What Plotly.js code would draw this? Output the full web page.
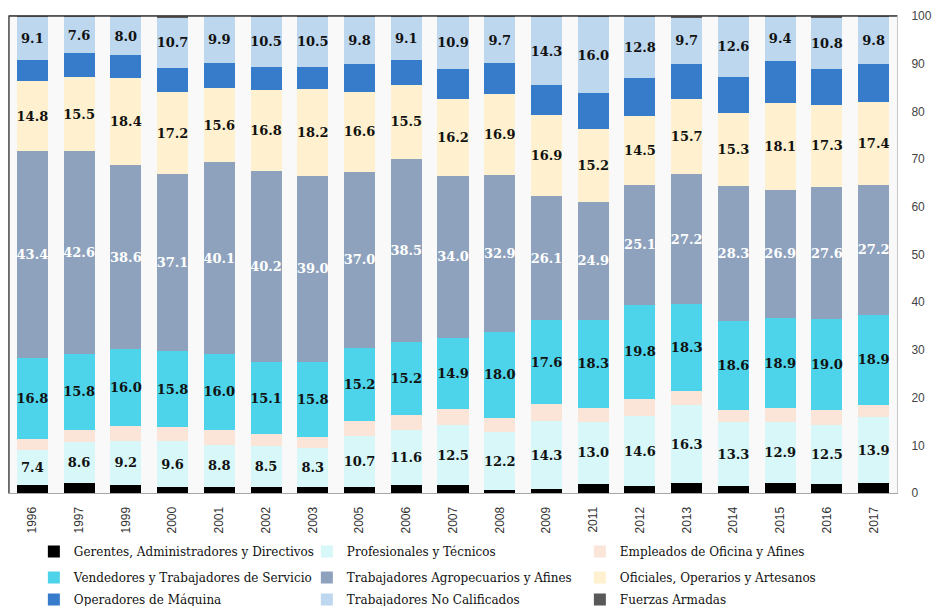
<!DOCTYPE html>
<html>
<head>
<meta charset="utf-8">
<script src="https://cdn.plot.ly/plotly-3.0.1.min.js"></script>
<style>html,body{margin:0;padding:0;background:#fff;}#chart{width:934px;height:606px;}</style>
</head>
<body>
<div id="chart"></div>
<script>
var years = ['1996','1997','1999','2000','2001','2002','2003','2005','2006','2007','2008','2009','2011','2012','2013','2014','2015','2016','2017'];
var gerentes      = [1.6,2.1,1.7,1.2,1.3,1.3,1.2,1.3,1.6,1.7,0.6,0.8,1.9,1.5,2.1,1.5,2.0,1.8,2.0];
var profesionales = [7.4,8.6,9.2,9.6,8.8,8.5,8.3,10.7,11.6,12.5,12.2,14.3,13.0,14.6,16.3,13.3,12.9,12.5,13.9];
var empleados     = [2.4,2.6,3.2,3.1,3.1,2.5,2.2,3.2,3.2,3.4,3.0,3.5,3.0,3.6,2.9,2.6,2.9,3.2,2.6];
var vendedores    = [16.8,15.8,16.0,15.8,16.0,15.1,15.8,15.2,15.2,14.9,18.0,17.6,18.3,19.8,18.3,18.6,18.9,19.0,18.9];
var agropecuarios = [43.4,42.6,38.6,37.1,40.1,40.2,39.0,37.0,38.5,34.0,32.9,26.1,24.9,25.1,27.2,28.3,26.9,27.6,27.2];
var oficiales     = [14.8,15.5,18.4,17.2,15.6,16.8,18.2,16.6,15.5,16.2,16.9,16.9,15.2,14.5,15.7,15.3,18.1,17.3,17.4];
var operadores    = [4.3,5.0,4.7,5.0,5.2,4.9,4.6,6.0,5.1,6.2,6.5,6.3,7.5,8.0,7.5,7.7,8.8,7.5,8.0];
var noCalificados = [9.1,7.6,8.0,10.7,9.9,10.5,10.5,9.8,9.1,10.9,9.7,14.3,16.0,12.8,9.7,12.6,9.4,10.8,9.8];
var fuerzas       = [0.2,0.2,0.2,0.3,0.0,0.2,0.2,0.2,0.2,0.2,0.2,0.2,0.2,0.1,0.3,0.1,0.1,0.3,0.2];

var seriesNames = ['Gerentes, Administradores y Directivos','Profesionales y Técnicos','Empleados de Oficina y Afines',
  'Vendedores y Trabajadores de Servicio','Trabajadores Agropecuarios y Afines','Oficiales, Operarios y Artesanos',
  'Operadores de Máquina','Trabajadores No Calificados','Fuerzas Armadas'];
var seriesValues = [gerentes, profesionales, empleados, vendedores, agropecuarios, oficiales, operadores, noCalificados, fuerzas];
var seriesColors = ['#000000','#d8f7f8','#fbe4d8','#4dd4ea','#8ea2bd','#fff1cf','#377bcb','#bdd7ee','#595959'];
var seriesLabeled = [false,true,false,true,true,true,false,true,false];
var labelColors = ['#000','#111','#111','#111','#ffffff','#111','#111','#111','#111'];
var legendRows = ['legend','legend','legend','legend2','legend2','legend2','legend3','legend3','legend3'];

var traces = seriesNames.map(function(name, i){
  return {
    type: 'bar',
    name: name,
    x: years,
    y: seriesValues[i],
    legend: legendRows[i],
    marker: {color: seriesColors[i], line: {width: 0}},
    texttemplate: seriesLabeled[i] ? '%{y:.1f}' : '',
    textposition: seriesLabeled[i] ? 'inside' : 'none',
    insidetextanchor: 'middle',
    textangle: 0,
    constraintext: 'none',
    textfont: {family: 'DejaVu Serif', size: 13, weight: 'bold', color: labelColors[i]},
    hoverinfo: 'x+y+name'
  };
});

function legendRow(yTop){
  return {
    orientation: 'h', traceorder: 'normal',
    xref: 'paper', x: 0.028, xanchor: 'left',
    yref: 'container', y: yTop, yanchor: 'top',
    entrywidth: 228, entrywidthmode: 'pixels',
    font: {family: 'DejaVu Serif', size: 12, color: '#111'},
    bgcolor: 'rgba(0,0,0,0)'
  };
}

var layout = {
  width: 934, height: 606,
  margin: {l: 9, r: 37, t: 16, b: 113},
  paper_bgcolor: '#ffffff',
  plot_bgcolor: '#f9f9f9',
  barmode: 'stack',
  bargap: 0.335,
  showlegend: true,
  legend: legendRow(0.1139),
  legend2: legendRow(0.0709),
  legend3: legendRow(0.0347),
  xaxis: {
    type: 'category',
    tickangle: -90,
    tickfont: {family: 'Liberation Sans', size: 12, color: '#333'},
    showgrid: false, zeroline: false,
    showline: true, linecolor: '#a6a6a6', linewidth: 1, mirror: true,
    ticks: '', ticklabelstandoff: 8
  },
  yaxis: {
    side: 'right',
    range: [0, 100],
    dtick: 10,
    tickfont: {family: 'Liberation Sans', size: 12, color: '#444'},
    showgrid: false, zeroline: false,
    showline: true, linecolor: '#c8c8c8', linewidth: 1, mirror: true,
    ticks: '', ticklabelstandoff: 11
  },
  shapes: [
    {type: 'line', xref: 'paper', yref: 'paper', x0: 0, x1: 1, y0: 1, y1: 1, line: {color: '#3a3a3a', width: 1.3}},
    {type: 'line', xref: 'paper', yref: 'paper', x0: 0, x1: 0, y0: 0, y1: 1, line: {color: '#3a3a3a', width: 1.3}}
  ]
};

Plotly.newPlot('chart', traces, layout, {displayModeBar: false, responsive: false});
</script>
</body>
</html>
